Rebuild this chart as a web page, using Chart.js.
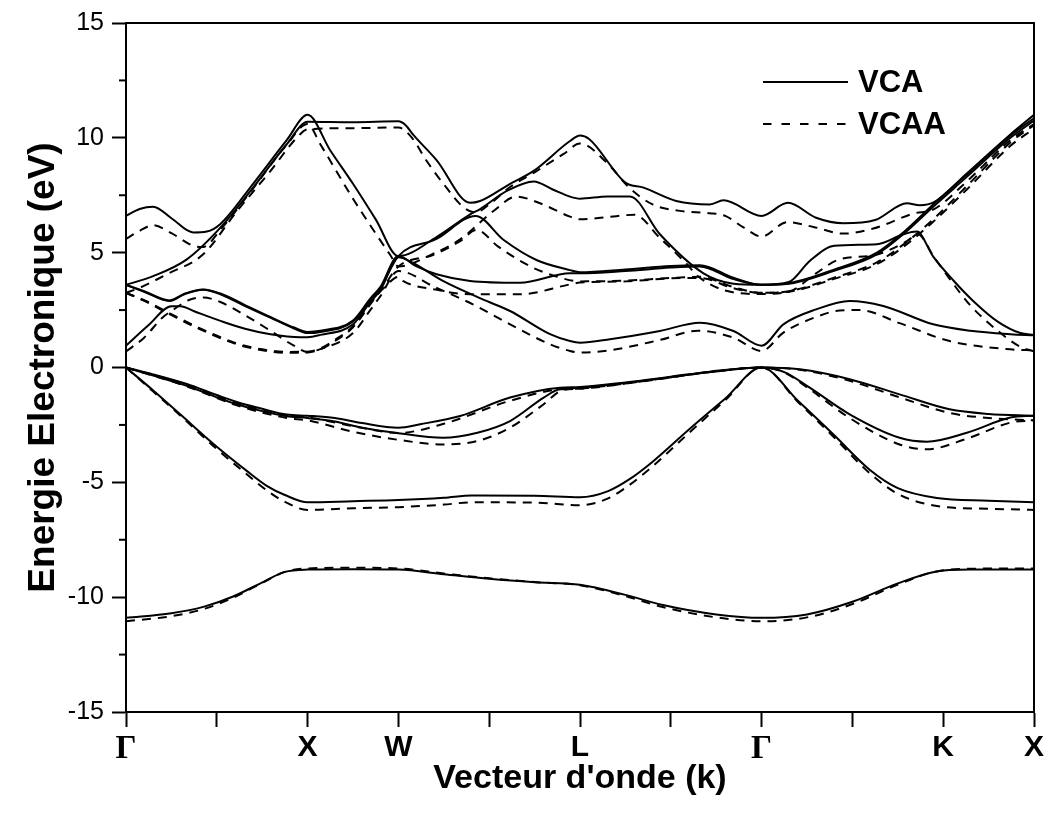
<!DOCTYPE html>
<html>
<head>
<meta charset="utf-8">
<script src="https://cdn.jsdelivr.net/npm/chart.js@4.4.1/dist/chart.umd.min.js"></script>
<style>
  body { margin: 0; background: #fff; }
  #wrap { width: 1048px; height: 815px; }
</style>
</head>
<body>
<div id="wrap"><canvas id="bands" width="1048" height="815"></canvas></div>
<script>
// high-symmetry points along the path (tick units)
const kPoints = [0, 2, 3, 5, 7, 9, 10];
const kNames = ['Γ', 'X', 'W', 'L', 'Γ', 'K', 'X'];
const yMinor = [12.5, 7.5, 2.5, -2.5, -7.5, -12.5];

// VCA bands [k, E(eV)]
const vcaS = [[0,-10.9],[0.5,-10.7],[0.87,-10.4],[1.18,-9.97],[1.48,-9.4],[1.75,-8.9],[2,-8.8],[2.5,-8.78],[3,-8.8],[3.5,-9.0],[4,-9.2],[4.5,-9.35],[5,-9.46],[5.5,-9.9],[5.9,-10.33],[6.5,-10.75],[7,-10.9],[7.5,-10.75],[8,-10.2],[8.5,-9.4],[8.9,-8.9],[9.3,-8.8],[10,-8.8]];
const vcaV1 = [[0,0],[0.3,-0.3],[0.67,-0.72],[1,-1.2],[1.22,-1.5],[1.5,-1.8],[1.77,-2.05],[2,-2.1],[2.3,-2.2],[2.6,-2.42],[3,-2.62],[3.24,-2.47],[3.68,-2.11],[4.23,-1.31],[4.78,-0.88],[5,-0.85],[5.5,-0.65],[6,-0.4],[6.43,-0.18],[7,0],[7.42,-0.08],[7.97,-0.51],[8.52,-1.17],[9.07,-1.82],[9.5,-2.02],[10,-2.1]];
const vcaV2 = [[0,0],[0.3,-0.35],[0.67,-0.8],[1,-1.3],[1.22,-1.6],[1.5,-1.9],[1.77,-2.12],[2,-2.2],[2.3,-2.35],[2.6,-2.62],[3,-2.86],[3.49,-3.06],[3.87,-2.84],[4.23,-2.33],[4.6,-1.31],[4.78,-0.94],[5,-0.88],[5.5,-0.68],[6,-0.42],[6.43,-0.2],[7,0],[7.25,-0.2],[7.53,-0.88],[7.97,-2.04],[8.52,-3.06],[8.82,-3.23],[9.26,-2.84],[9.74,-2.18],[10,-2.1]];
const vcaV3 = [[0,0],[0.3,-1.0],[0.6,-2.05],[1,-3.45],[1.33,-4.5],[1.55,-5.15],[1.75,-5.55],[2,-5.87],[2.5,-5.82],[3,-5.77],[3.5,-5.67],[3.81,-5.57],[4.5,-5.58],[5,-5.65],[5.31,-5.38],[5.55,-4.85],[5.8,-4.1],[6.2,-2.7],[6.6,-1.35],[7,0],[7.4,-1.45],[7.8,-2.95],[8.19,-4.45],[8.5,-5.25],[8.93,-5.68],[9.5,-5.8],[10,-5.87]];
const vcaC1 = [[0,0.95],[0.25,1.85],[0.5,2.67],[0.6,2.67],[0.75,2.45],[1.04,2.03],[1.3,1.7],[1.59,1.45],[1.92,1.32],[2,1.32],[2.14,1.42],[2.5,1.88],[2.69,2.85],[2.8,3.35],[3,4.8],[3.13,4.62],[3.49,3.77],[3.97,2.9],[4.23,2.46],[4.67,1.45],[4.89,1.15],[5,1.08],[5.33,1.23],[5.88,1.59],[6.32,1.95],[6.69,1.59],[7,0.95],[7.24,1.88],[7.6,2.53],[7.97,2.9],[8.34,2.68],[8.89,1.88],[9.3,1.6],[9.74,1.45],[10,1.4]];
const vcaC2 = [[0,3.6],[0.2,3.3],[0.48,2.9],[0.65,3.2],[0.85,3.38],[1.04,3.19],[1.3,2.7],[1.59,2.17],[1.85,1.7],[2,1.5],[2.14,1.55],[2.5,2.0],[2.69,2.95],[2.8,3.45],[3,4.85],[3.42,5.6],[3.85,6.6],[4.16,5.55],[4.52,4.68],[4.89,4.24],[5,4.15],[5.5,4.27],[6,4.42],[6.32,4.45],[6.69,3.91],[7,3.6],[7.3,3.65],[7.79,4.2],[8.27,4.93],[8.56,5.8],[8.89,7.0],[9.26,8.3],[9.74,10.0],[10,10.75]];
const vcaC3 = [[0,3.6],[0.2,3.32],[0.48,2.92],[0.65,3.22],[0.85,3.4],[1.04,3.22],[1.3,2.74],[1.59,2.2],[1.85,1.74],[2,1.55],[2.14,1.6],[2.5,2.05],[2.69,3.0],[2.8,3.5],[3,4.85],[3.2,4.4],[3.42,4.06],[3.79,3.77],[4.34,3.69],[4.89,4.1],[5,4.1],[5.5,4.2],[6,4.35],[6.32,4.4],[6.69,3.85],[7,3.6],[7.3,3.67],[7.79,4.25],[8.27,5.0],[8.56,5.88],[8.89,7.1],[9.26,8.4],[9.74,10.1],[10,10.85]];
const vcaC4 = [[0,6.6],[0.15,6.9],[0.3,7.0],[0.5,6.5],[0.74,5.88],[0.89,5.92],[1.04,6.25],[1.4,8.0],[1.77,9.9],[2,11.0],[2.25,9.45],[2.5,8.0],[2.75,6.45],[3,4.85],[3.42,5.68],[3.79,6.67],[3.9,6.9],[4.2,7.7],[4.49,8.1],[4.7,7.75],[4.89,7.44],[5,7.35],[5.3,7.45],[5.55,7.45],[5.88,5.8],[6.36,4.1],[6.69,3.65],[7,3.6],[7.3,3.72],[7.53,4.64],[7.8,5.3],[8.27,5.37],[8.56,5.8],[8.71,5.92],[8.89,4.83],[9.11,3.8],[9.33,2.9],[9.6,2.0],[9.85,1.5],[10,1.42]];
const vcaC5 = [[0,3.6],[0.3,3.98],[0.67,4.71],[1.04,6.09],[1.4,7.83],[1.77,9.72],[2,10.7],[2.5,10.68],[3,10.72],[3.08,10.55],[3.16,10.15],[3.42,9.03],[3.79,7.17],[3.9,7.25],[4.23,8.0],[4.49,8.56],[4.89,9.86],[5,10.1],[5.1,9.95],[5.5,8.05],[5.7,7.83],[6.06,7.25],[6.43,7.1],[6.58,7.28],[7,6.6],[7.29,7.17],[7.6,6.52],[7.9,6.28],[8.25,6.42],[8.6,7.15],[8.74,7.07],[8.9,7.2],[9.26,8.45],[9.74,10.15],[10,11.0]];

// VCAA bands [k, E(eV)]
const vcaaS = [[0,-11.05],[0.5,-10.83],[0.87,-10.5],[1.18,-10.02],[1.48,-9.42],[1.75,-8.9],[2,-8.75],[2.5,-8.72],[3,-8.75],[3.5,-8.97],[4,-9.18],[4.5,-9.34],[5,-9.48],[5.5,-9.95],[5.9,-10.42],[6.5,-10.88],[7,-11.05],[7.5,-10.88],[8,-10.3],[8.5,-9.45],[8.9,-8.9],[9.3,-8.76],[10,-8.75]];
const vcaaV1 = [[0,0],[0.67,-0.75],[1.22,-1.55],[1.77,-2.1],[2,-2.17],[2.5,-2.55],[3,-2.85],[3.5,-2.45],[4.23,-1.45],[4.78,-0.95],[5,-0.92],[5.5,-0.7],[6,-0.42],[6.43,-0.2],[7,0],[7.42,-0.1],[7.97,-0.58],[8.52,-1.3],[9.07,-1.98],[9.5,-2.2],[10,-2.3]];
const vcaaV2 = [[0,0],[0.67,-0.82],[1.22,-1.65],[1.77,-2.2],[2,-2.3],[2.5,-2.8],[3,-3.15],[3.49,-3.35],[3.87,-3.2],[4.23,-2.62],[4.6,-1.6],[4.8,-1.0],[5,-0.92],[5.5,-0.7],[6,-0.43],[6.43,-0.2],[7,0],[7.25,-0.22],[7.53,-0.95],[7.97,-2.2],[8.52,-3.35],[8.82,-3.56],[9.26,-3.1],[9.74,-2.4],[10,-2.3]];
const vcaaV3 = [[0,0],[0.3,-1.05],[0.6,-2.1],[1,-3.55],[1.33,-4.65],[1.55,-5.35],[1.75,-5.85],[2,-6.2],[2.5,-6.13],[3,-6.08],[3.5,-5.97],[3.81,-5.87],[4.5,-5.88],[5,-6.0],[5.31,-5.7],[5.55,-5.1],[5.8,-4.3],[6.2,-2.85],[6.6,-1.42],[7,0],[7.4,-1.5],[7.8,-3.05],[8.19,-4.6],[8.5,-5.5],[8.93,-6.03],[9.5,-6.15],[10,-6.2]];
const vcaaC1 = [[0,0.7],[0.2,1.3],[0.4,2.17],[0.5,2.46],[0.7,2.95],[0.85,3.05],[1.04,2.85],[1.3,2.3],[1.59,1.6],[1.85,0.95],[2,0.68],[2.14,0.8],[2.5,1.5],[2.69,2.5],[2.8,3.1],[3,4.2],[3.4,3.5],[3.82,2.75],[4.23,1.88],[4.67,1.01],[4.89,0.72],[5,0.65],[5.33,0.75],[5.88,1.2],[6.3,1.6],[6.69,1.3],[7,0.72],[7.24,1.52],[7.6,2.2],[7.86,2.48],[8.08,2.5],[8.52,1.93],[9.07,1.15],[9.74,0.79],[10,0.75]];
const vcaaC2 = [[0,3.25],[0.2,2.9],[0.48,2.32],[0.78,1.73],[1.22,1.01],[1.5,0.75],[1.77,0.64],[2,0.65],[2.14,0.79],[2.3,1.15],[2.5,1.75],[2.7,2.8],[2.85,3.6],[3,4.4],[3.38,4.9],[3.68,5.5],[3.86,5.99],[4.1,5.26],[4.46,4.39],[4.75,3.95],[5,3.75],[5.5,3.78],[6,3.9],[6.32,3.95],[6.69,3.5],[7,3.25],[7.3,3.3],[7.79,3.85],[8.27,4.5],[8.56,5.25],[8.89,6.35],[9.26,7.75],[9.74,9.65],[10,10.4]];
const vcaaC3 = [[0,3.25],[0.2,2.93],[0.48,2.36],[0.78,1.77],[1.22,1.05],[1.5,0.79],[1.77,0.68],[2,0.69],[2.14,0.83],[2.3,1.2],[2.5,1.8],[2.7,2.85],[2.85,3.5],[3,3.95],[3.05,3.77],[3.4,3.4],[3.79,3.19],[4.34,3.19],[4.89,3.62],[5,3.7],[5.5,3.75],[6,3.88],[6.32,3.9],[6.69,3.45],[7,3.25],[7.3,3.32],[7.79,3.9],[8.27,4.58],[8.56,5.35],[8.89,6.45],[9.26,7.9],[9.74,9.8],[10,10.55]];
const vcaaC4 = [[0,5.6],[0.15,5.95],[0.3,6.2],[0.5,5.85],[0.74,5.3],[0.85,5.25],[1.04,6.0],[1.4,7.8],[1.77,9.7],[2,10.6],[2.14,9.72],[2.5,7.35],[2.91,4.9],[3,4.4],[3.38,4.95],[3.68,5.58],[4.04,6.79],[4.3,7.44],[4.56,7.15],[4.89,6.57],[5,6.45],[5.3,6.55],[5.6,6.65],[5.88,5.64],[6.14,4.65],[6.32,3.91],[6.6,3.35],[7,3.2],[7.3,3.3],[7.6,4.1],[7.85,4.7],[8.25,4.9],[8.6,5.5],[8.72,5.8],[8.9,4.8],[9.1,3.7],[9.3,2.7],[9.6,1.6],[9.85,0.9],[10,0.7]];
const vcaaC5 = [[0,3.25],[0.15,3.47],[0.45,4.06],[0.85,4.93],[1.22,6.8],[1.59,8.55],[1.88,10.0],[2,10.37],[2.5,10.42],[3,10.45],[3.15,10.0],[3.31,9.0],[3.49,8.03],[3.71,7.0],[3.85,6.75],[4.0,7.1],[4.23,7.86],[4.5,8.5],[4.82,9.3],[5,9.75],[5.3,8.9],[5.55,7.8],[5.8,7.1],[6.1,6.82],[6.43,6.72],[6.6,6.6],[6.8,6.1],[7,5.7],[7.28,6.33],[7.57,6.12],[7.9,5.83],[8.23,6.05],[8.67,6.7],[8.9,6.9],[9.26,8.1],[9.74,9.9],[10,10.6]];

const vcaBands = [vcaS, vcaV1, vcaV2, vcaV3, vcaC1, vcaC2, vcaC3, vcaC4, vcaC5];
const vcaaBands = [vcaaS, vcaaV1, vcaaV2, vcaaV3, vcaaC1, vcaaC2, vcaaC3, vcaaC4, vcaaC5];

const sans = '"Liberation Sans", Arial, sans-serif';

function band(points, dashed) {
  return {
    data: points.map(([x, y]) => ({ x, y })),
    borderColor: '#000',
    borderWidth: 2,
    borderDash: dashed ? [9, 7] : [],
    pointRadius: 0,
    fill: false,
    cubicInterpolationMode: 'monotone'
  };
}

const datasets = vcaBands.map(b => band(b, false)).concat(vcaaBands.map(b => band(b, true)));

// frame, minor ticks and legend drawn on top
const extras = {
  id: 'extras',
  afterDraw(chart) {
    const { ctx, chartArea: a, scales: { y } } = chart;
    ctx.save();
    ctx.strokeStyle = '#000';
    ctx.lineWidth = 2;
    ctx.strokeRect(a.left, a.top, a.right - a.left, a.bottom - a.top);
    yMinor.forEach(v => {
      const py = y.getPixelForValue(v);
      ctx.beginPath();
      ctx.moveTo(a.left - 7, py);
      ctx.lineTo(a.left, py);
      ctx.stroke();
    });
    // legend
    const lx = a.right - 271, ly1 = a.top + 59, ly2 = a.top + 101;
    ctx.beginPath();
    ctx.moveTo(lx, ly1); ctx.lineTo(lx + 85, ly1); ctx.stroke();
    ctx.setLineDash([8.5, 10]);
    ctx.beginPath();
    ctx.moveTo(lx, ly2); ctx.lineTo(lx + 85, ly2); ctx.stroke();
    ctx.setLineDash([]);
    ctx.fillStyle = '#000';
    ctx.font = 'bold 31px ' + sans;
    ctx.textBaseline = 'middle';
    ctx.textAlign = 'left';
    ctx.fillText('VCA', lx + 95, ly1 + 1);
    ctx.fillText('VCAA', lx + 95, ly2 + 1);
    ctx.restore();
  }
};

new Chart(document.getElementById('bands'), {
  type: 'line',
  data: { datasets },
  options: {
    responsive: false,
    animation: false,
    devicePixelRatio: 1,
    layout: { padding: { top: 23, right: 14, left: 0, bottom: 0 } },
    plugins: { legend: { display: false }, tooltip: { enabled: false } },
    scales: {
      x: {
        type: 'linear',
        min: 0,
        max: 10,
        afterFit(s) { s.height = 103; },
        afterBuildTicks(s) { s.ticks = [0,1,2,3,4,5,6,7,8,9,10].map(v => ({ value: v })); },
        grid: { drawOnChartArea: false, color: '#000', tickLength: 15, tickWidth: 2 },
        border: { color: '#000', width: 2 },
        ticks: {
          autoSkip: false,
          maxRotation: 0,
          padding: 3,
          color: '#000',
          callback: v => { const i = kPoints.indexOf(v); return i >= 0 ? kNames[i] : ''; },
          font: ctx => (ctx.tick && (ctx.tick.value === 0 || ctx.tick.value === 7))
            ? { family: '"Liberation Serif", serif', weight: 'bold', size: 33 }
            : { family: sans, weight: 'bold', size: 30 }
        },
        title: {
          display: true,
          text: "Vecteur d'onde (k)",
          color: '#000',
          font: { family: sans, weight: 'bold', size: 34 },
          padding: { top: 0, bottom: 16 }
        }
      },
      y: {
        min: -15,
        max: 15,
        afterFit(s) { s.width = 126; },
        ticks: {
          stepSize: 5,
          padding: 8,
          color: '#000',
          font: { family: sans, size: 25 }
        },
        grid: { drawOnChartArea: false, color: '#000', tickLength: 14, tickWidth: 2 },
        border: { color: '#000', width: 2 },
        title: {
          display: true,
          text: 'Energie Electronique (eV)',
          color: '#000',
          font: { family: sans, weight: 'bold', size: 37 },
          padding: { top: 22, bottom: 0 }
        }
      }
    }
  },
  plugins: [extras]
});
</script>
</body>
</html>
